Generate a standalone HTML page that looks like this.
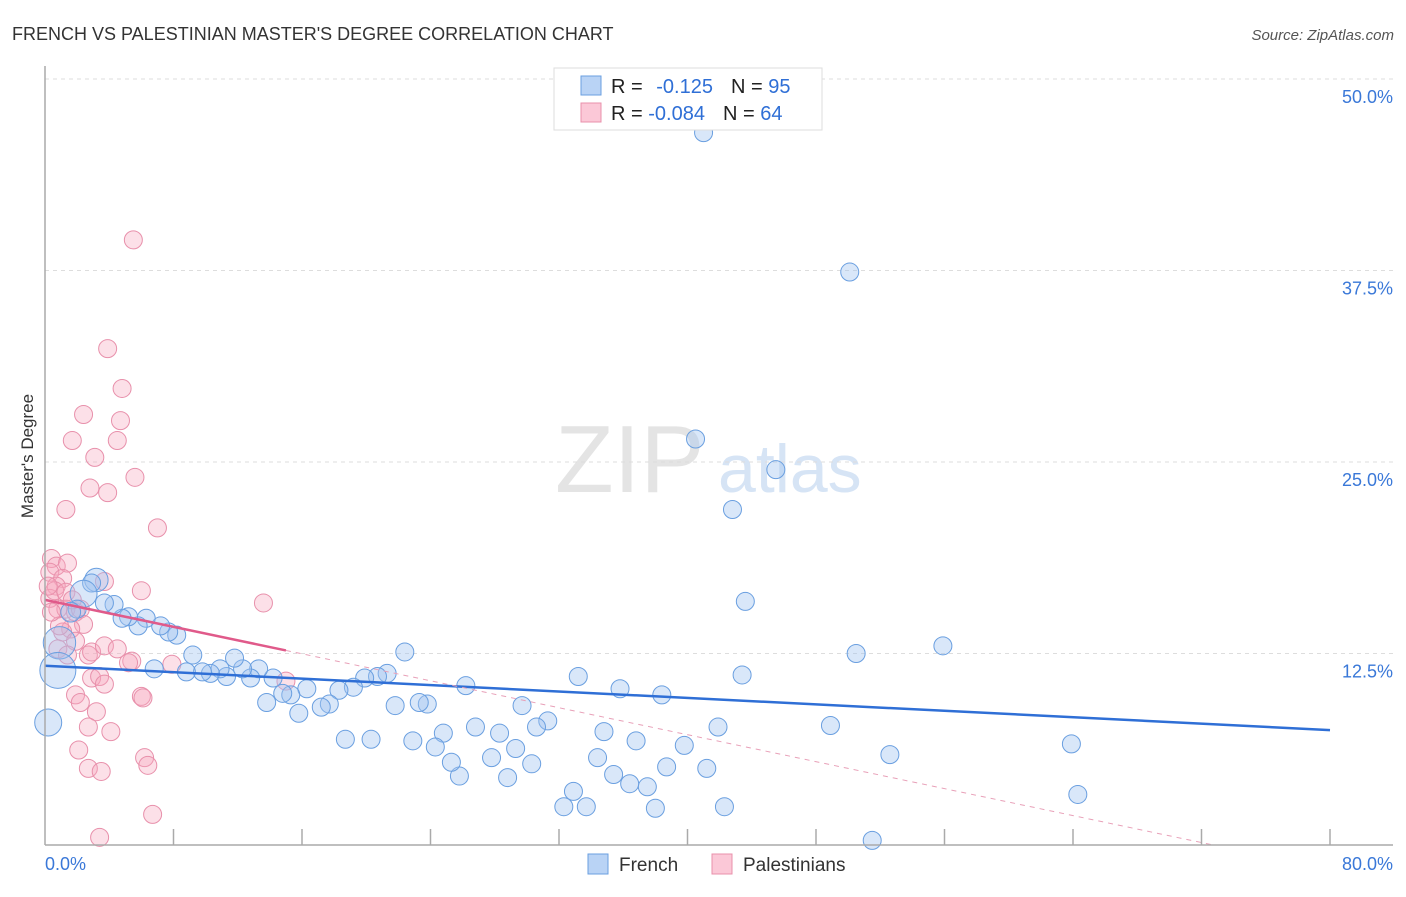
<!DOCTYPE html>
<html><head><meta charset="utf-8"><style>
body{margin:0;background:#fff;font-family:"Liberation Sans",sans-serif;}
svg text{font-family:"Liberation Sans",sans-serif;}
</style></head><body>
<svg id="chart" width="1406" height="892" viewBox="0 0 1406 892" xmlns="http://www.w3.org/2000/svg">
<text x="12" y="40" font-size="18" fill="#333">FRENCH VS PALESTINIAN MASTER'S DEGREE CORRELATION CHART</text>
<text x="1394" y="40" font-size="15" fill="#555" font-style="italic" text-anchor="end">Source: ZipAtlas.com</text>
<text x="555" y="492" font-size="96" fill="#e4e4e4" font-family="Liberation Serif">ZIP</text>
<text x="718" y="492" font-size="68" fill="#d6e4f5">atlas</text>
<text transform="translate(33,456) rotate(-90)" font-size="17" fill="#333" text-anchor="middle">Master's Degree</text>
<g id="grid"></g><g id="marks"></g><g id="axes"></g>
<g>
<rect x="554" y="68" width="268" height="62" fill="#fff" stroke="#ddd"/>
<rect x="581" y="76" width="20" height="19" fill="#b9d3f5" stroke="#6a9fe0"/>
<rect x="581" y="103" width="20" height="19" fill="#fbc8d7" stroke="#e890ab"/>
<text x="611" y="93" font-size="20" fill="#222">R = <tspan fill="#2f6fd6" dx="8">-0.125</tspan><tspan dx="18" fill="#222">N = </tspan><tspan fill="#2f6fd6">95</tspan></text>
<text x="611" y="120" font-size="20" fill="#222">R = <tspan fill="#2f6fd6">-0.084</tspan><tspan dx="18" fill="#222">N = </tspan><tspan fill="#2f6fd6">64</tspan></text>
</g>
<g>
<rect x="588" y="854" width="20" height="20" fill="#b9d3f5" stroke="#6a9fe0"/>
<text x="619" y="871" font-size="19" fill="#333">French</text>
<rect x="712" y="854" width="20" height="20" fill="#fbc8d7" stroke="#e890ab"/>
<text x="743" y="871" font-size="19" fill="#333">Palestinians</text>
</g>
</svg>
<script>
const frenchX=[41.0,50.1,40.5,45.5,42.8,43.6,50.5,55.9,63.9,64.3,51.5,52.6,48.9,43.4,41.9,41.2,42.3,39.8,38.4,38.7,37.5,38.0,36.8,36.4,35.4,35.8,34.8,34.4,33.2,33.7,32.9,32.3,31.3,30.6,30.3,29.3,29.7,28.8,28.3,27.8,26.8,26.2,25.8,25.3,24.8,24.3,22.9,23.8,23.3,22.4,21.8,21.3,20.7,20.3,19.9,19.2,18.7,18.3,17.7,17.2,16.3,15.8,15.3,14.8,14.2,13.8,13.3,12.8,12.3,11.8,11.3,10.9,10.3,9.8,9.2,8.8,8.2,7.7,7.2,6.8,6.3,5.8,5.2,4.8,4.3,3.7,3.2,2.9,2.4,2.0,1.6,0.9,0.8,0.2];
const frenchY=[46.5,37.4,26.5,24.5,21.9,15.9,12.5,13.0,6.6,3.3,0.3,5.9,7.8,11.1,7.7,5.0,2.5,6.5,9.8,5.1,3.8,2.4,6.8,4.0,4.6,10.2,7.4,5.7,11.0,2.5,3.5,2.5,8.1,7.7,5.3,6.3,9.1,4.4,7.3,5.7,7.7,10.4,4.5,5.4,7.3,6.4,6.8,9.2,9.3,12.6,9.1,11.2,11.0,6.9,10.9,10.3,6.9,10.1,9.2,9.0,10.2,8.6,9.8,9.9,10.9,9.3,11.5,10.9,11.5,12.2,11.0,11.5,11.2,11.3,12.4,11.3,13.7,13.9,14.3,11.5,14.8,14.3,14.9,14.8,15.7,15.8,17.3,17.1,16.4,15.4,15.2,13.2,11.4,8.0];
const frenchSize=[1,1,1,1,1,1,1,1,1,1,1,1,1,1,1,1,1,1,1,1,1,1,1,1,1,1,1,1,1,1,1,1,1,1,1,1,1,1,1,1,1,1,1,1,1,1,1,1,1,1,1,1,1,1,1,1,1,1,1,1,1,1,1,1,1,1,1,1,1,1,1,1,1,1,1,1,1,1,1,1,1,1,1,1,1,1,1.3,1,1.5,1,1.1,1.8,2,1.5];
const palX=[5.5,3.9,4.8,2.4,4.7,1.7,4.5,3.1,2.8,3.9,5.6,1.3,7.0,0.4,0.7,1.4,0.3,1.1,0.7,3.7,6.0,13.6,0.3,0.8,1.3,1.9,2.2,2.4,1.6,1.1,1.9,2.7,2.9,3.7,4.5,5.4,5.2,7.9,15.0,2.9,3.4,3.7,1.9,2.2,6.0,6.1,3.2,4.1,2.7,2.1,6.2,6.4,2.7,3.5,6.7,3.4,0.9,0.6,0.2,1.3,0.4,0.8,1.4,1.7];
const palY=[39.5,32.4,29.8,28.1,27.7,26.4,26.4,25.3,23.3,23.0,24.0,21.9,20.7,18.7,18.2,18.4,17.8,17.4,16.9,17.2,16.6,15.8,16.1,15.4,15.4,15.2,15.4,14.4,14.1,13.9,13.3,12.4,12.6,13.0,12.8,12.0,11.9,11.8,10.7,10.9,11.0,10.5,9.8,9.3,9.7,9.6,8.7,7.4,7.7,6.2,5.7,5.2,5.0,4.8,2.0,0.5,14.3,16.6,16.9,16.5,15.2,12.8,12.4,16.0];
const yTicks=[12.5,25.0,37.5,50.0];
const xTicks=[0,8,16,24,32,40,48,56,64,72,80];
const frenchTrend=[11.7,7.5];  // value at x=0 and x=80
const palTrend=[16.0,-0.22];   // intercept, slope
const palSolidEnd=15;

const X0=45,X1=1330,Y0=845,YT=79;
const sx=v=>X0+(X1-X0)*v/80;
const sy=v=>Y0-(Y0-YT)*v/50;
const NS='http://www.w3.org/2000/svg';
function mk(tag,attrs,parent){const e=document.createElementNS(NS,tag);for(const k in attrs)e.setAttribute(k,attrs[k]);parent.appendChild(e);return e;}
const grid=document.getElementById('grid'),marks=document.getElementById('marks'),axes=document.getElementById('axes');
yTicks.forEach(t=>{
  const l=mk('line',{x1:X0,x2:1393,y1:sy(t),y2:sy(t),stroke:'#ddd','stroke-dasharray':'4,4'},grid);
  
  
  const tx=mk('text',{x:1393,y:sy(t)+24,'font-size':18,fill:'#3a78d8','text-anchor':'end'},axes);
  tx.textContent=t.toFixed(1)+'%';
  
  
});
const ax=mk('line',{x1:X0,x2:X0,y1:66,y2:Y0,stroke:'#aaa','stroke-width':1.5},axes);


const bx=mk('line',{x1:X0,x2:1393,y1:Y0,y2:Y0,stroke:'#aaa','stroke-width':1.5},axes);


xTicks.forEach((t,i)=>{
  if(i===0)return;
  const l=mk('line',{x1:sx(t),x2:sx(t),y1:Y0,y2:Y0-16,stroke:'#aaa','stroke-width':1.5},axes);
  
  
});
[[0,'0.0%','start',45],[80,'80.0%','end',1393]].forEach(d=>{
  const tx=mk('text',{x:d[3],y:870,'font-size':18,fill:'#3a78d8','text-anchor':d[2]},axes);
  tx.textContent=d[1];
  
  
});
palX.forEach((v,i)=>{
  const c=mk('circle',{cx:sx(v),cy:sy(palY[i]),r:9,fill:'rgba(245,165,190,0.35)',stroke:'#e890ab','stroke-width':1},marks);
  
  
});
frenchX.forEach((v,i)=>{
  const c=mk('circle',{cx:sx(v),cy:sy(frenchY[i]),r:9*frenchSize[i],fill:'rgba(160,195,240,0.4)',stroke:'#6a9fe0','stroke-width':1},marks);
  
  
});
const bl=mk('line',{x1:sx(0),y1:sy(frenchTrend[0]),x2:sx(80),y2:sy(frenchTrend[1]),stroke:'#2f6fd6','stroke-width':2.5},marks);


const pf=x=>palTrend[0]+palTrend[1]*x;
const xz=-palTrend[0]/palTrend[1];
const pd=mk('line',{x1:sx(palSolidEnd),y1:sy(pf(palSolidEnd)),x2:sx(xz),y2:sy(0),stroke:'#e8a0b8','stroke-width':1,'stroke-dasharray':'5,5'},marks);


const pl=mk('line',{x1:sx(0),y1:sy(pf(0)),x2:sx(palSolidEnd),y2:sy(pf(palSolidEnd)),stroke:'#e05a8a','stroke-width':2.5},marks);


</script>
</body></html>
